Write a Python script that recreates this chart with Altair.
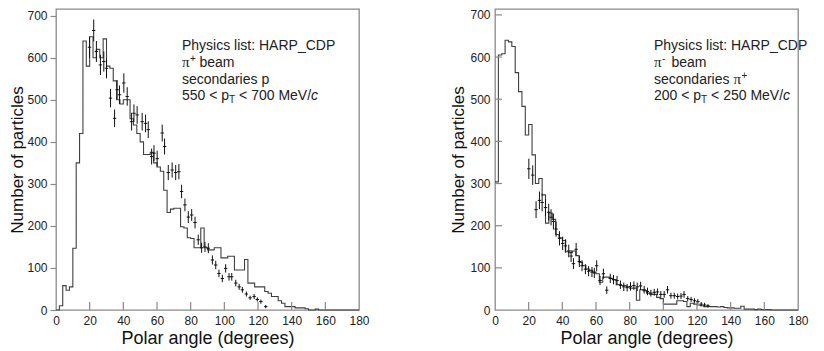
import altair as alt
import pandas as pd

# ---------------- data ----------------
BIN_W = 2  # degrees per histogram bin, bins start at 0
X_TICKS = [0, 20, 40, 60, 80, 100, 120, 140, 160, 180]
X_INNER_TICKS = [20, 40, 60, 80, 100, 120, 140, 160]
Y_TICKS = [0, 100, 200, 300, 400, 500, 600, 700]
Y_INNER_TICKS = [100, 200, 300, 400, 500, 600, 700]

# left panel: pi+ beam, secondaries p, 550 < pT < 700 MeV/c
L_HIST = [0, 10, 58, 47, 55, 147, 350, 420, 640, 580,
          650, 600, 620, 600, 645, 580, 575, 545, 500, 490,
          500, 500, 455, 440, 420, 400, 370, 370, 375, 350,
          340, 330, 285, 232, 240, 242, 242, 198, 195, 172,
          170, 148, 148, 195, 148, 143, 143, 148, 148, 124,
          124, 128, 128, 95, 95, 95, 120, 64, 64, 55,
          55, 55, 44, 40, 32, 32, 22, 16, 8, 8,
          8, 5, 5, 5, 3, 0, 0, 2, 0, 0,
          0, 0, 0, 0, 0, 0, 0, 0, 0, 0]
L_PX = [19.9, 22.4, 24.0, 26.4, 28.4, 30.0, 32.4, 34.8, 36.3, 37.7, 40.3,
        42.3, 44.9, 46.3, 48.2, 51.2, 53.2, 54.8, 56.8, 58.2, 60.1,
        63.1, 64.5, 66.7, 69.0, 71.1, 73.0, 74.6, 76.6, 78.6, 80.6,
        82.6, 84.5, 86.5, 88.5, 90.5, 92.9, 94.9, 96.8, 98.8, 100.8,
        102.8, 104.4, 106.8, 108.8, 110.7, 113.1, 115.3, 117.7, 119.6, 121.7,
        124.6]
L_PY = [625, 665, 615, 583, 591, 575, 504, 456, 524, 512, 540,
        508, 448, 468, 464, 448, 444, 429, 365, 373, 360,
        421, 389, 327, 333, 327, 329, 282, 250, 221, 226,
        208, 167, 148, 150, 147, 119, 107, 87, 75, 99,
        79, 79, 64, 55, 48, 38, 29, 32, 25, 20,
        8]
L_ERR = [25, 26, 25, 24, 24, 24, 22, 21, 23, 22, 23,
         22, 21, 21, 21, 21, 21, 20, 19, 19, 19,
         20, 19, 18, 18, 18, 18, 16, 15, 14, 14,
         14, 12, 12, 12, 12, 11, 10, 9, 9, 10,
         9, 9, 8, 7, 7, 6, 5, 6, 5, 5,
         4]

# right panel: pi- beam, secondaries pi+, 200 < pT < 250 MeV/c
R_HIST = [304, 605, 608, 640, 636, 625, 563, 518, 483, 415,
          440, 368, 300, 312, 273, 206, 230, 215, 179, 171,
          165, 138, 136, 140, 129, 113, 105, 97, 94, 90,
          86, 66, 78, 78, 75, 72, 60, 58, 58, 55,
          52, 52, 23, 48, 46, 40, 37, 37, 30, 27,
          14, 14, 14, 14, 22, 22, 20, 8, 16, 14,
          12, 10, 8, 8, 8, 8, 7, 8, 6, 5,
          5, 4, 4, 9, 2, 2, 2, 1, 2, 1,
          1, 1, 0, 0, 0, 0, 0, 0, 0, 0]
R_PX = [20.1, 22.4, 24.4, 26.4, 28.0, 30.0, 31.9, 33.3, 34.7, 36.3,
        38.3, 40.2, 41.8, 43.8, 45.2, 46.6, 48.2, 50.1, 51.7, 53.7,
        55.6, 57.6, 59.0, 60.4, 62.4, 64.4, 66.4, 68.5, 70.4, 72.5,
        74.5, 76.5, 78.5, 80.5, 82.5, 84.5, 86.5, 88.6, 90.6, 92.6,
        94.6, 96.5, 98.5, 100.5, 102.5, 104.5, 106.5, 108.5, 110.5, 112.3,
        114.5, 116.5, 118.5, 120.5, 122.5, 124.5, 126.5]
R_PY = [335, 320, 238, 260, 255, 243, 232, 220, 210, 192,
        170, 158, 152, 140, 128, 110, 144, 115, 105, 97,
        92, 90, 88, 105, 70, 86, 47, 75, 72, 70,
        60, 55, 53, 56, 58, 55, 57, 48, 44, 40,
        42, 43, 37, 37, 48, 34, 34, 32, 33, 37,
        27, 25, 22, 20, 14, 12, 10]
R_ERR = [24, 23, 20, 21, 21, 20, 20, 19, 19, 18,
         17, 16, 16, 15, 14, 13, 15, 13, 13, 12,
         12, 12, 12, 13, 11, 12, 9, 11, 11, 11,
         10, 10, 9, 10, 10, 10, 10, 9, 9, 8,
         8, 8, 8, 8, 9, 7, 7, 7, 7, 8,
         6, 6, 6, 6, 5, 5, 4]
X_ERR = 1.0  # half width of the horizontal error bar, degrees

# ---------------- styling ----------------
W, H = 303, 301
SANS = "Liberation Sans"
SERIF = "Liberation Serif"
FRAME = "#8a8a8a"
INK = "#222222"
SP = 3.9  # width of a space at 14px
ONE = pd.DataFrame({"k": [0]})


def txt(s, x, y, size=14, font=SANS, style="normal", dy=0):
    return alt.Chart(ONE).mark_text(
        text=s, align="left", baseline="alphabetic", font=font,
        fontSize=size, fontStyle=style, color=INK, dy=dy
    ).encode(x=alt.value(x), y=alt.value(y))


def panel(hist, px, py, perr, ymax, inner_y, texts):
    edges = [i * BIN_W for i in range(len(hist))] + [len(hist) * BIN_W]
    hdf = pd.DataFrame({"a": edges, "n": list(hist) + [hist[-1]]})
    pdf = pd.DataFrame({
        "x": px, "y": py,
        "lo": [v - e for v, e in zip(py, perr)],
        "hi": [v + e for v, e in zip(py, perr)],
        "xl": [v - X_ERR for v in px],
        "xh": [v + X_ERR for v in px],
    })
    xs = alt.Scale(domain=[0, 180], nice=False, zero=False)
    ys = alt.Scale(domain=[0, ymax], nice=False, zero=True)
    xaxis = alt.Axis(
        title="Polar angle (degrees)", values=X_TICKS, ticks=False, domain=False,
        grid=False, labelPadding=5, labelFontSize=12, labelFont=SANS,
        labelColor=INK, labelFlush=False, labelOverlap=False,
        titleFont=SANS, titleFontSize=18, titleFontWeight="normal",
        titleColor="#111111", titlePadding=3,
    )
    common_y = dict(
        title="Number of particles", values=Y_TICKS, domain=False, grid=False,
        labelFontSize=12, labelFont=SANS, labelColor=INK, labelFlush=False,
        labelOverlap=False, titleFont=SANS, titleFontSize=17,
        titleFontWeight="normal", titleColor="#111111",
    )
    if inner_y:
        yaxis = alt.Axis(ticks=False, labelPadding=5, minExtent=25, maxExtent=25,
                         titlePadding=3, **common_y)
    else:
        yaxis = alt.Axis(ticks=True, tickSize=6, tickColor=FRAME, tickWidth=1.2,
                         labelPadding=3, minExtent=30, maxExtent=30,
                         titlePadding=0, **common_y)

    X = lambda f: alt.X(f, scale=xs, axis=xaxis)
    Y = lambda f: alt.Y(f, scale=ys, axis=yaxis)

    line = alt.Chart(hdf).mark_line(
        interpolate="step-after", color="#404040", strokeWidth=1.1
    ).encode(x=X("a:Q"), y=Y("n:Q"))
    vbar = alt.Chart(pdf).mark_rule(color="#111111", strokeWidth=1).encode(
        x=X("x:Q"), y=Y("lo:Q"), y2="hi:Q")
    hbar = alt.Chart(pdf).mark_rule(color="#111111", strokeWidth=1).encode(
        x=X("xl:Q"), x2="xh:Q", y=Y("y:Q"))
    xt = alt.Chart(pd.DataFrame({"t": X_INNER_TICKS})).mark_rule(
        color=FRAME, strokeWidth=1.2
    ).encode(x=X("t:Q"), y=alt.value(H), y2=alt.value(H - 8))
    layers = [line, vbar, hbar, xt]
    if inner_y:
        yt = alt.Chart(pd.DataFrame({"t": Y_INNER_TICKS})).mark_rule(
            color=FRAME, strokeWidth=1.2
        ).encode(y=Y("t:Q"), x=alt.value(0), x2=alt.value(7))
        layers.append(yt)
    layers.extend(texts)
    return alt.layer(*layers).properties(width=W, height=H)


# annotation text blocks (plot-area pixel offsets)
def block(x0, sign, line3, line4):
    b1, b2, b3, b4 = 41, 58, 74.5, 91
    out = [txt("Physics list: HARP_CDP", x0, b1)]
    out += [txt("\u03c0", x0, b2, font=SERIF, size=15),
            txt(sign, x0 + 8, b2, size=10, dy=-5),
            txt("beam", x0 + 13.5 + SP, b2)]
    if line3 == "p":
        out.append(txt("secondaries p", x0, b3))
    else:
        out += [txt("secondaries", x0, b3),
                txt("\u03c0", x0 + 79.4, b3, font=SERIF, size=15),
                txt("+", x0 + 87.4, b3, size=10, dy=-5)]
    lo, hi = line4
    out += [txt(f"{lo} < p", x0, b4),
            txt("T", x0 + 47.1, b4, size=10, dy=3),
            txt(f"< {hi} MeV/", x0 + 53.2 + SP, b4),
            txt("c", x0 + 129.1, b4, style="italic")]
    return out


left = panel(L_HIST, L_PX, L_PY, L_ERR, 716, False,
             block(126, "+", "p", (550, 700)))
right = panel(R_HIST, R_PX, R_PY, R_ERR, 714, True,
              block(159, "-", "pi+", (200, 250)))

chart = alt.hconcat(left, right, spacing=78).properties(
    padding={"left": -1, "top": 0, "right": 0, "bottom": 0}
).configure_view(stroke=FRAME, strokeWidth=1.3)

chart.save("out.html", embed_options={"renderer": "svg", "actions": False})
